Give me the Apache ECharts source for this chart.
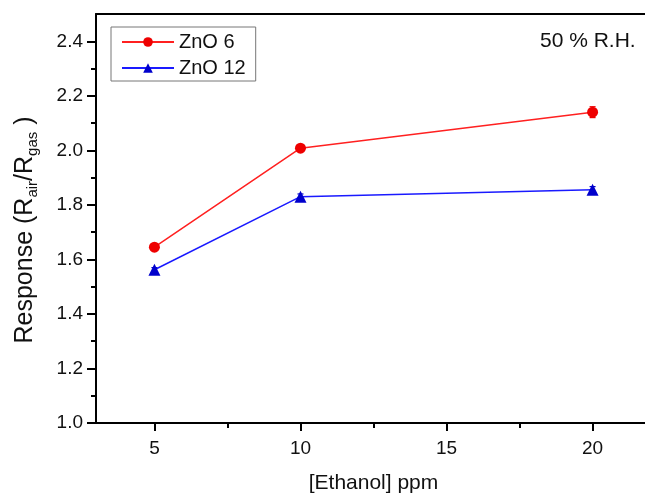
<!DOCTYPE html>
<html>
<head>
<meta charset="utf-8">
<script src="https://cdn.jsdelivr.net/npm/echarts@6/dist/echarts.min.js"></script>
<style>
html,body{margin:0;padding:0;background:#fff;}
#main{width:645px;height:494px;}
</style>
</head>
<body>
<div id="main"></div>
<script>
// ---- data ----
const concentrations = [5, 10, 20];
const zno6 = [1.645, 2.008, 2.14];
const zno6Err = [0.01, 0.012, 0.02];
const zno12 = [1.562, 1.83, 1.855];
const zno12Err = [0.008, 0.01, 0.012];
const xMajorTicks = [5, 10, 15, 20];
const xMinorTicks = [7.5, 12.5, 17.5];
const yMajorTicks = [1.0, 1.2, 1.4, 1.6, 1.8, 2.0, 2.2, 2.4];
const yMinorTicks = [1.1, 1.3, 1.5, 1.7, 1.9, 2.1, 2.3];
const seriesNames = ['ZnO 6', 'ZnO 12'];

const FONT = 'Liberation Sans, Arial, sans-serif';
const chart = echarts.init(document.getElementById('main'));

function pairs(xs, ys) { return xs.map((x, i) => [x, ys[i]]); }
function errData(xs, ys, es) { return xs.map((x, i) => [x, ys[i] - es[i], ys[i] + es[i]]); }

function errorBarRender(color) {
  return function (params, api) {
    const x = api.value(0);
    const lo = api.coord([x, api.value(1)]);
    const hi = api.coord([x, api.value(2)]);
    const w = 3;
    const style = { stroke: color, lineWidth: 1.2 };
    return {
      type: 'group',
      children: [
        { type: 'line', shape: { x1: lo[0], y1: lo[1], x2: hi[0], y2: hi[1] }, style },
        { type: 'line', shape: { x1: lo[0] - w, y1: lo[1], x2: lo[0] + w, y2: lo[1] }, style },
        { type: 'line', shape: { x1: hi[0] - w, y1: hi[1], x2: hi[0] + w, y2: hi[1] }, style }
      ]
    };
  };
}

const axisLine = { show: true, onZero: false, lineStyle: { color: '#000', width: 2 } };

const option = {
  backgroundColor: '#fff',
  animation: false,
  grid: { left: 96, top: 14, right: -6, bottom: 71, containLabel: false, outerBoundsMode: 'none' },
  legend: {
    orient: 'vertical',
    left: 111, top: 27,
    padding: [5, 10, 3, 10],
    itemWidth: 52, itemHeight: 12,
    itemGap: 6,
    borderColor: '#777', borderWidth: 1,
    textStyle: { fontFamily: FONT, fontSize: 20, color: '#111' },
    data: seriesNames
  },
  xAxis: [
    {
      type: 'value', min: 3, max: 22, position: 'bottom',
      name: '[Ethanol] ppm', nameLocation: 'middle', nameGap: 50,
      nameTextStyle: { fontFamily: FONT, fontSize: 21, color: '#111' },
      axisLine: axisLine,
      axisTick: { show: true, inside: false, length: 8, customValues: xMajorTicks, lineStyle: { color: '#000', width: 2 } },
      axisLabel: { customValues: xMajorTicks, margin: 16, fontFamily: FONT, fontSize: 19, color: '#111' },
      splitLine: { show: false }
    },
    {
      type: 'value', min: 3, max: 22, position: 'bottom',
      axisLine: { show: false },
      axisTick: { show: true, inside: false, length: 5, customValues: xMinorTicks, lineStyle: { color: '#000', width: 2 } },
      axisLabel: { show: false },
      splitLine: { show: false }
    },
    {
      type: 'value', min: 3, max: 22, position: 'top',
      axisLine: axisLine,
      axisTick: { show: false }, axisLabel: { show: false }, splitLine: { show: false }
    }
  ],
  yAxis: [
    {
      type: 'value', min: 1.0, max: 2.5, position: 'left',
      axisLine: axisLine,
      axisTick: { show: true, inside: false, length: 9, customValues: yMajorTicks, lineStyle: { color: '#000', width: 2 } },
      axisLabel: { customValues: yMajorTicks, margin: 13, fontFamily: FONT, fontSize: 19, color: '#111',
        formatter: v => v.toFixed(1) },
      splitLine: { show: false }
    },
    {
      type: 'value', min: 1.0, max: 2.5, position: 'left',
      axisLine: { show: false },
      axisTick: { show: true, inside: false, length: 5, customValues: yMinorTicks, lineStyle: { color: '#000', width: 2 } },
      axisLabel: { show: false },
      splitLine: { show: false }
    },
    {
      type: 'value', min: 1.0, max: 2.5, position: 'right',
      axisLine: axisLine,
      axisTick: { show: false }, axisLabel: { show: false }, splitLine: { show: false }
    }
  ],
  series: [
    {
      name: seriesNames[0], type: 'line', data: pairs(concentrations, zno6),
      symbol: 'circle', symbolSize: 11,
      lineStyle: { color: '#ff2020', width: 1.5 },
      itemStyle: { color: '#ee0000' }, z: 3
    },
    {
      name: seriesNames[1], type: 'line', data: pairs(concentrations, zno12),
      symbol: 'triangle', symbolSize: 12,
      lineStyle: { color: '#1a1aff', width: 1.5 },
      itemStyle: { color: '#0000cc' }, z: 3
    },
    {
      type: 'custom', renderItem: errorBarRender('#ee0000'),
      data: errData(concentrations, zno6, zno6Err), encode: { x: 0, y: [1, 2] }, z: 2, silent: true
    },
    {
      type: 'custom', renderItem: errorBarRender('#0000cc'),
      data: errData(concentrations, zno12, zno12Err), encode: { x: 0, y: [1, 2] }, z: 2, silent: true
    }
  ],
  graphic: [
    {
      type: 'text', left: 540, top: 31,
      style: { text: '50 % R.H.', fontFamily: FONT, fontSize: 21, fill: '#111' }
    },
    {
      type: 'text', x: 25, y: 230, rotation: Math.PI / 2,
      style: {
        text: '{a|Response (R}{s|air}{a|/R}{s|gas}{a| )}',
        align: 'center', verticalAlign: 'middle',
        rich: {
          a: { fontFamily: FONT, fontSize: 25, fill: '#111', lineHeight: 30, verticalAlign: 'middle' },
          s: { fontFamily: FONT, fontSize: 15, fill: '#111', lineHeight: 15, verticalAlign: 'bottom' }
        }
      }
    }
  ]
};
chart.setOption(option);
</script>
</body>
</html>
